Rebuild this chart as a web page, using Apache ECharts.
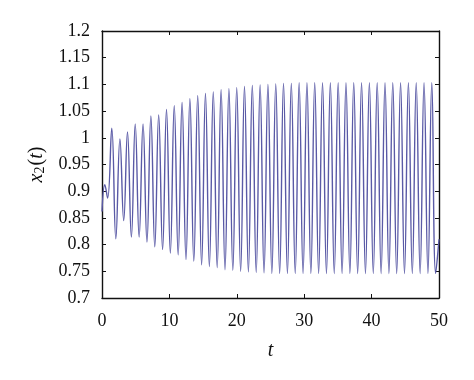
<!DOCTYPE html>
<html>
<head>
<meta charset="utf-8">
<script src="https://cdn.jsdelivr.net/npm/echarts@6/dist/echarts.min.js"></script>
<style>
  html,body{margin:0;padding:0;background:#fff}
  #ch{width:474px;height:380px}
</style>
</head>
<body>
<div id="ch"></div>
<script>
// ── data ───────────────────────────────────────────────────
// start-up transient (t, x2)
const startT = [0, 0.42, 0.83];
const startV = [0.862, 0.912, 0.887];

// local maxima of x2(t)
const peakT = [1.45, 2.66, 3.78, 4.93, 6.09, 7.25, 8.41, 9.57, 10.72, 11.88,
  13.04, 14.2, 15.35, 16.51, 17.67, 18.83, 19.99, 21.14, 22.3, 23.46,
  24.62, 25.78, 26.93, 28.09, 29.25, 30.41, 31.56, 32.72, 33.88, 35.04,
  36.2, 37.35, 38.51, 39.67, 40.83, 41.99, 43.14, 44.3, 45.46, 46.62,
  47.78, 48.93];
const peakV = [1.018, 0.998, 1.011, 1.026, 1.026, 1.041, 1.043, 1.053, 1.06, 1.066,
  1.073, 1.079, 1.083, 1.086, 1.09, 1.092, 1.094, 1.096, 1.098, 1.099,
  1.1, 1.101, 1.102, 1.102, 1.103, 1.103, 1.103, 1.103, 1.103, 1.103,
  1.103, 1.103, 1.103, 1.103, 1.103, 1.103, 1.103, 1.103, 1.103, 1.103,
  1.103, 1.103];

// local minima of x2(t)
const troughT = [2.05, 3.22, 4.36, 5.51, 6.67, 7.83, 8.99, 10.14, 11.3, 12.46,
  13.62, 14.78, 15.93, 17.09, 18.25, 19.41, 20.57, 21.72, 22.88, 24.04,
  25.2, 26.36, 27.51, 28.67, 29.83, 30.99, 32.14, 33.3, 34.46, 35.62,
  36.78, 37.93, 39.09, 40.25, 41.41, 42.57, 43.72, 44.88, 46.04, 47.2,
  48.36, 49.51];
const troughV = [0.811, 0.845, 0.814, 0.814, 0.805, 0.796, 0.791, 0.784, 0.781, 0.772,
  0.769, 0.762, 0.759, 0.757, 0.753, 0.752, 0.75, 0.749, 0.748, 0.747,
  0.746, 0.746, 0.746, 0.746, 0.746, 0.746, 0.746, 0.746, 0.746, 0.746,
  0.746, 0.746, 0.746, 0.746, 0.746, 0.746, 0.746, 0.746, 0.746, 0.746,
  0.746, 0.746];

const endT = [50];
const endV = [0.81];

const xTicks = [0, 10, 20, 30, 40, 50];

// ── build series ───────────────────────────────────────────
const pts = [];
startT.forEach((t, i) => pts.push([t, startV[i]]));
peakT.forEach((t, i) => { pts.push([t, peakV[i]]); pts.push([troughT[i], troughV[i]]); });
endT.forEach((t, i) => pts.push([t, endV[i]]));

const INK = '#111';
const LINE = '#5a5aa6';
const SERIF = '"Liberation Serif", "Times New Roman", serif';

const axisBase = {
  axisLine: { show: true, onZero: false, lineStyle: { color: INK, width: 1.4 } },
  axisTick: { show: true, inside: true, length: 4, lineStyle: { color: INK, width: 1 } },
  splitLine: { show: false },
};

const chart = echarts.init(document.getElementById('ch'), null, { renderer: 'canvas' });
chart.setOption({
  animation: false,
  backgroundColor: '#fff',
  grid: { left: 102, right: 35, top: 31, bottom: 82 },
  xAxis: [
    Object.assign({
      type: 'value', min: xTicks[0], max: xTicks[xTicks.length - 1], interval: 10,
      position: 'bottom',
      axisLabel: { color: INK, fontFamily: SERIF, fontSize: 18, margin: 14 },
      name: 't', nameLocation: 'middle', nameGap: 43,
      nameTextStyle: { color: INK, fontFamily: SERIF, fontSize: 20, fontStyle: 'italic' },
    }, axisBase),
    Object.assign({
      type: 'value', min: 0, max: 50, interval: 10, position: 'top',
      axisLabel: { show: false },
    }, axisBase),
  ],
  yAxis: [
    Object.assign({
      type: 'value', min: 0.7, max: 1.2, interval: 0.05, position: 'left',
      axisLabel: { color: INK, fontFamily: SERIF, fontSize: 18, margin: 12,
        formatter: v => String(+v.toFixed(2)) },
      name: '{i|x}{s|2}{n|(}{i|t}{n|)}', nameLocation: 'middle', nameGap: 54,
      nameTextStyle: {
        color: INK, fontFamily: SERIF,
        rich: {
          i: { fontFamily: SERIF, fontSize: 20, fontStyle: 'italic', color: INK, lineHeight: 22 },
          n: { fontFamily: SERIF, fontSize: 20, color: INK, lineHeight: 22 },
          s: { fontFamily: SERIF, fontSize: 14, color: INK, lineHeight: 22, verticalAlign: 'bottom', padding: [6, 1, 0, 0] },
        },
      },
    }, axisBase),
    Object.assign({
      type: 'value', min: 0.7, max: 1.2, interval: 0.05, position: 'right',
      axisLabel: { show: false },
    }, axisBase),
  ],
  series: [{
    type: 'line',
    data: pts,
    xAxisIndex: 0, yAxisIndex: 0,
    showSymbol: false,
    smooth: 0.45,
    lineStyle: { color: LINE, width: 1.4 },
  }],
});
</script>
</body>
</html>
